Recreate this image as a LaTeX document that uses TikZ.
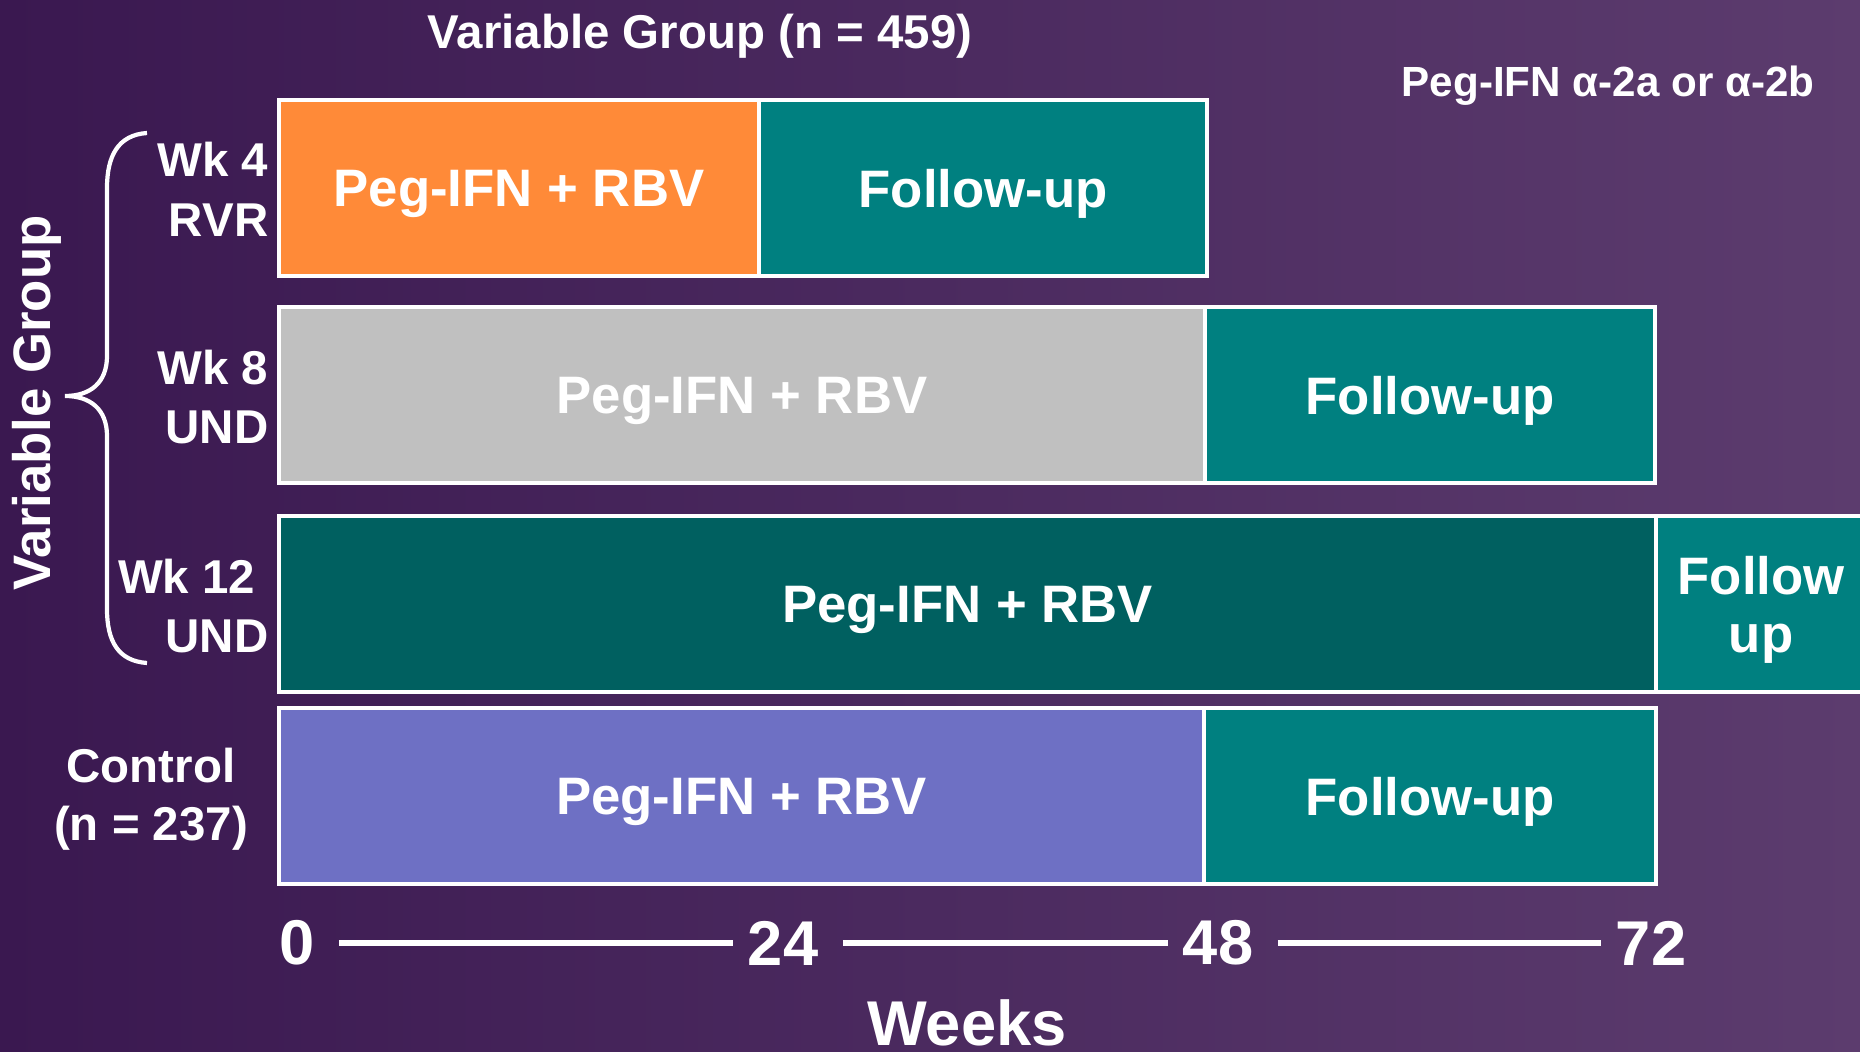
\documentclass[tikz,border=0pt]{standalone}
\usepackage{fontspec}
\setmainfont{Liberation Sans}
\usetikzlibrary{positioning}
\definecolor{bgleft}{HTML}{3A1850}
\definecolor{bgright}{HTML}{5C3C6E}
\definecolor{pegorange}{HTML}{FF8A38}
\definecolor{futeal}{HTML}{008080}
\definecolor{peggray}{HTML}{C0C0C0}
\definecolor{pegteal}{HTML}{006060}
\definecolor{peglav}{HTML}{6E70C4}

\begin{document}
\begin{tikzpicture}[node distance=0cm, phase/.style={draw=white, line width=1.2pt, text=white, font=\bfseries\fontsize{15}{16.5}\selectfont, minimum height=1.76cm, inner sep=0pt, outer sep=0pt, align=center, text depth=0pt}, lbl/.style={text=white, font=\bfseries\fontsize{13.5}{17}\selectfont, align=right, anchor=east, inner sep=0pt}, tick/.style={text=white, font=\bfseries\fontsize{18}{20}\selectfont, inner sep=0pt}, axisline/.style={draw=white, line width=1.5pt, shorten <=0.24cm, shorten >=0.14cm}]
\shade[left color=bgleft, right color=bgright] (0,0) rectangle (18.6,10.51);
\useasboundingbox (0,0) rectangle (18.6,10.51);

\node[text=white, font=\bfseries\fontsize{13.5}{16}\selectfont, anchor=base] (title) at (7.00,10.02) {Variable Group (n = 459)};
\node[text=white, font=\bfseries\fontsize{12}{14}\selectfont, anchor=base] (drug) at (16.08,9.54) {Peg-IFN α-2a or α-2b};

% wk 4 rvr
\node[phase, fill=pegorange, minimum width=4.80cm, anchor=north west] (tx4) at (2.79,9.51) {Peg-IFN + RBV};
\node[phase, fill=futeal, minimum width=4.48cm, right=of tx4] (fu4) {Follow-up};
% wk 8 und
\node[phase, fill=peggray, minimum width=9.26cm, anchor=north west] (tx8) at (2.79,7.44) {Peg-IFN + RBV};
\node[phase, fill=futeal, minimum width=4.50cm, right=of tx8] (fu8) {Follow-up};
% wk 12 und
\node[phase, fill=pegteal, minimum width=13.77cm, anchor=north west] (tx12) at (2.79,5.35) {Peg-IFN + RBV};
\node[phase, fill=futeal, minimum width=2.10cm, right=of tx12] (fu12) {Follow\\up};
% control
\node[phase, fill=peglav, minimum width=9.25cm, anchor=north west] (txc) at (2.79,3.43) {Peg-IFN + RBV};
\node[phase, fill=futeal, minimum width=4.52cm, right=of txc] (fuc) {Follow-up};

\node[lbl] (wk4) at (2.69,8.62) {Wk 4\\RVR};
\node[lbl] (wk8) at (2.69,6.54) {Wk 8\\UND};
\node[lbl] (wk12) at (2.69,4.45) {\mbox{Wk 12\hspace{0.13cm}}\\UND};
\node[text=white, font=\bfseries\fontsize{13.5}{16.5}\selectfont, align=center, inner sep=0pt] (ctl) at (1.51,2.52) {Control\\(n = 237)};

\draw[white, line width=1.2pt] (1.47,9.18) .. controls (1.18,9.16) and (1.07,8.95) .. (1.07,8.63) -- (1.07,6.95) .. controls (1.07,6.68) and (0.90,6.55) .. (0.65,6.55) .. controls (0.90,6.55) and (1.07,6.42) .. (1.07,6.15) -- (1.07,4.42) .. controls (1.07,4.10) and (1.18,3.90) .. (1.47,3.88);
\node[rotate=90, text=white, font=\bfseries\fontsize{15}{17}\selectfont, inner sep=0pt] (vg) at (0.37,6.48) {Variable Group};

% weeks axis
\node[tick] (w0) at (2.97,1.08) {0};
\node[tick] (w24) at (7.83,1.08) {24};
\node[tick] (w48) at (12.18,1.08) {48};
\node[tick] (w72) at (16.51,1.08) {72};
\draw[axisline] (w0.east) -- (w24.west);
\draw[axisline] (w24.east) -- (w48.west);
\draw[axisline] (w48.east) -- (w72.west);
\node[tick, anchor=base] (weeks) at (9.67,0.06) {Weeks};
\end{tikzpicture}
\end{document}
